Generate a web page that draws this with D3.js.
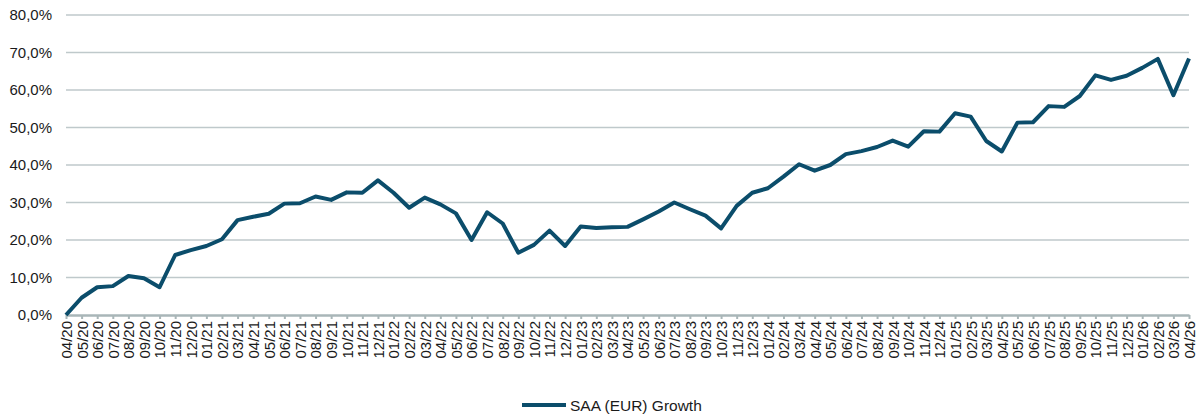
<!DOCTYPE html>
<html>
<head>
<meta charset="utf-8">
<script src="https://cdn.jsdelivr.net/npm/d3@7"></script>
<style>
  body { margin: 0; background: #fff; }
  text { font-family: "Liberation Sans", Arial, sans-serif; fill: #1a1a1a; }
</style>
</head>
<body>
<div id="chart"></div>
<script>
// month labels 04/20 .. 04/26
var months = ["04/20","05/20","06/20","07/20","08/20","09/20","10/20","11/20","12/20",
  "01/21","02/21","03/21","04/21","05/21","06/21","07/21","08/21","09/21","10/21","11/21","12/21",
  "01/22","02/22","03/22","04/22","05/22","06/22","07/22","08/22","09/22","10/22","11/22","12/22",
  "01/23","02/23","03/23","04/23","05/23","06/23","07/23","08/23","09/23","10/23","11/23","12/23",
  "01/24","02/24","03/24","04/24","05/24","06/24","07/24","08/24","09/24","10/24","11/24","12/24",
  "01/25","02/25","03/25","04/25","05/25","06/25","07/25","08/25","09/25","10/25","11/25","12/25",
  "01/26","02/26","03/26","04/26"];

// SAA (EUR) Growth, in %
var growth = [0.0, 4.6, 7.4, 7.7, 10.4, 9.8, 7.4, 16.0, 17.3,
  18.4, 20.2, 25.3, 26.2, 27.0, 29.7, 29.8, 31.6, 30.7, 32.7, 32.6, 35.9,
  32.6, 28.6, 31.3, 29.5, 27.1, 20.0, 27.4, 24.4, 16.6, 18.7, 22.5, 18.4,
  23.6, 23.2, 23.4, 23.5, 25.5, 27.6, 30.0, 28.2, 26.5, 23.1, 29.1, 32.6,
  33.8, 36.9, 40.2, 38.5, 40.0, 42.9, 43.7, 44.8, 46.5, 44.9, 49.0, 48.9,
  53.8, 52.9, 46.4, 43.6, 51.3, 51.4, 55.7, 55.5, 58.4, 63.9, 62.7, 63.8,
  65.9, 68.3, 58.6, 68.4];

var yTicks = [0, 10, 20, 30, 40, 50, 60, 70, 80];
var seriesName = "SAA (EUR) Growth";

var width = 1198, height = 414;
var margin = {top: 15, left: 66, right: 9, bottom: 99};
var w = width - margin.left - margin.right;
var h = height - margin.top - margin.bottom;

var lineColor = "#0b4d6b";
var gridColor = "#bfc9cb";
var axisColor = "#a9b6b8";

var data = months.map((m, i) => ({month: m, value: growth[i]}));

var x = d3.scalePoint().domain(months).range([0, w]);
var y = d3.scaleLinear().domain([0, 80]).range([h, 0]);
var fmt = v => d3.format(".1f")(v).replace(".", ",") + "%";

var svg = d3.select("#chart").append("svg")
  .attr("width", width)
  .attr("height", height);

var g = svg.append("g")
  .attr("transform", `translate(${margin.left},${margin.top})`);

/* gridlines */
g.append("g")
  .selectAll("line")
  .data(yTicks.filter(t => t > 0)).enter()
  .append("line")
  .attr("x1", 0).attr("x2", w)
  .attr("y1", d => y(d)).attr("y2", d => y(d))
  .style("stroke", gridColor)
  .style("stroke-width", 1.3);

/* y axis labels */
var yAxis = d3.axisLeft(y).tickValues(yTicks).tickFormat(fmt).tickSize(0).tickPadding(14);
g.append("g")
  .call(yAxis)
  .call(s => s.select(".domain").remove())
  .selectAll("text")
  .style("font-size", "15px");

/* x axis */
var xAxis = d3.axisBottom(x).tickSize(4).tickSizeOuter(0);
var xg = g.append("g")
  .attr("transform", `translate(0,${h})`)
  .call(xAxis);
xg.select(".domain").style("stroke", axisColor).style("stroke-width", 2.5);
xg.selectAll(".tick line").style("stroke", axisColor).style("stroke-width", 2);
xg.selectAll(".tick text")
  .style("font-size", "15px")
  .attr("text-anchor", "end")
  .attr("transform", "rotate(-90)")
  .attr("x", -6)
  .attr("y", 0)
  .attr("dy", "0.36em");

/* line */
var line = d3.line()
  .x(d => x(d.month))
  .y(d => y(d.value));

g.append("path")
  .datum(data)
  .attr("d", line)
  .style("fill", "none")
  .style("stroke", lineColor)
  .style("stroke-width", 4)
  .style("stroke-linejoin", "round");

/* legend */
var legend = svg.append("g").attr("transform", "translate(522,405)");
legend.append("line")
  .attr("x1", 0).attr("x2", 44)
  .style("stroke", lineColor)
  .style("stroke-width", 4);
legend.append("text")
  .attr("x", 48)
  .attr("dy", "0.36em")
  .style("font-size", "15.5px")
  .text(seriesName);
</script>
</body>
</html>
